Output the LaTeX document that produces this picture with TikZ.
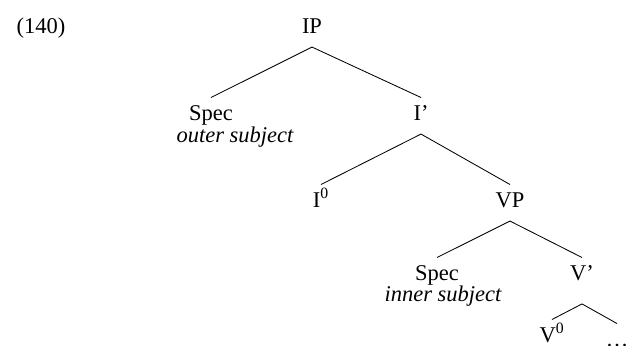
\documentclass[tikz,border=0pt]{standalone}
\usepackage{fontspec}
\setmainfont{Liberation Serif}

\begin{document}
\begin{tikzpicture}[x=0.025cm,y=-0.025cm,line width=0.6pt,
  lbl/.style={anchor=base,font=\fontsize{16}{19}\selectfont,inner sep=3pt,outer sep=2pt,text height=11pt,text depth=5pt},
  gloss/.style={anchor=base,font=\fontsize{16}{19}\selectfont\itshape,inner sep=0pt}]
  \useasboundingbox (0,0) rectangle (632,345);
  \node[lbl] (ex) at (41,33) {(140)};
  \node[lbl] (ip) at (312,33) {IP};
  \node[lbl] (specA) at (211,120) {Spec};
  \node[gloss] (outer) at (235,142) {outer subject};
  \node[lbl] (ibar) at (421,120) {I'};
  \node[lbl] (izero) at (321,207) {I\textsuperscript{0}};
  \node[lbl] (vp) at (510,207) {VP};
  \node[lbl] (specB) at (437,280) {Spec};
  \node[gloss] (inner) at (443,301) {inner subject};
  \node[lbl] (vbar) at (582,280) {V'};
  \node[lbl] (vzero) at (552,342) {V\textsuperscript{0}};
  \node[lbl] (rest) at (617,346) {\dots};
  \draw (ip.south) -- (specA.north);
  \draw (ip.south) -- (ibar.north);
  \draw (ibar.south) -- (izero.north);
  \draw (ibar.south) -- (vp.north);
  \draw (vp.south) -- (specB.north);
  \draw (vp.south) -- (vbar.north);
  \draw ([yshift=-7pt]vbar.south) -- (vzero.north);
  \draw ([yshift=-7pt]vbar.south) -- (rest.north);
\end{tikzpicture}
\end{document}
